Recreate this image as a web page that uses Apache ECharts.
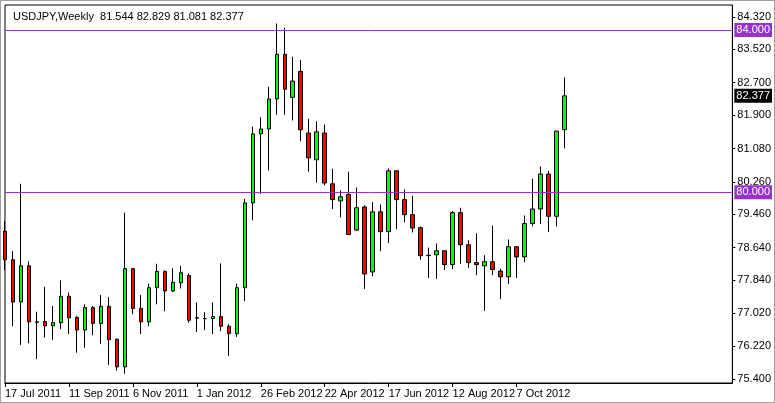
<!DOCTYPE html>
<html>
<head>
<meta charset="utf-8">
<script src="https://cdn.jsdelivr.net/npm/echarts@6/dist/echarts.min.js"></script>
<style>
  html, body { margin: 0; padding: 0; background: #fff; }
  #chart { width: 773px; height: 401px; border: 1px solid #a0a0a0; }
</style>
</head>
<body>
<div id="chart"></div>
<script>
// 周线 OHLC 数据（open, close, low, high）
var opens  = [79.04,78.34,77.30,78.19,76.81,76.82,76.71,76.79,77.44,76.92,76.61,77.16,76.77,77.19,76.38,75.70,78.12,77.14,76.81,77.65,
              78.05,77.57,77.77,77.95,76.90,76.89,76.89,76.94,76.70,76.52,77.65,79.74,81.44,81.56,82.30,83.40,82.34,82.98,81.46,80.80,
              81.46,80.21,79.79,79.95,79.07,79.64,78.04,79.52,79.03,80.53,79.82,79.45,79.13,78.45,78.46,78.56,78.22,79.50,78.71,78.27,
              78.19,78.29,78.06,77.92,78.66,78.41,79.23,79.59,80.45,79.41,81.544];
var closes = [78.34,77.30,78.19,76.81,76.80,76.71,76.79,77.44,76.91,76.61,77.16,76.77,77.19,76.37,75.70,78.12,77.14,76.81,77.65,78.05,
              77.57,77.78,78.02,76.85,76.91,76.89,76.94,76.70,76.52,77.65,79.74,81.44,81.56,82.30,83.40,82.54,82.74,81.54,80.85,81.49,
              80.23,79.82,79.89,78.96,79.62,77.99,79.52,79.03,80.53,79.82,79.45,79.12,78.44,78.44,78.56,78.22,79.50,78.71,78.27,78.22,
              78.29,78.10,77.92,78.66,78.41,79.23,79.59,80.45,79.41,81.51,82.377];
var lows   = [78.08,76.70,76.24,76.28,75.89,76.42,76.36,76.63,76.51,76.05,76.17,76.48,76.27,75.75,75.61,75.53,77.00,76.51,76.70,77.24,
              77.07,77.55,77.63,76.79,76.56,76.61,76.51,76.58,75.97,76.44,77.32,79.31,79.96,80.54,81.91,81.91,81.77,81.26,80.51,80.24,
              80.17,79.59,79.38,78.96,79.05,77.62,77.93,78.55,78.75,79.09,79.26,79.01,78.34,77.89,77.87,78.09,78.11,78.24,78.14,77.96,
              77.08,77.96,77.37,77.74,77.89,78.28,79.16,79.22,79.02,79.16,81.081];
var highs  = [79.29,78.55,80.21,78.30,77.06,77.67,77.20,77.83,77.53,76.95,77.24,77.20,77.47,77.42,76.40,79.50,78.14,77.47,77.75,78.24,
              78.08,78.13,78.19,78.00,77.29,77.05,77.29,78.25,76.75,77.75,79.84,81.62,81.85,82.60,84.16,84.06,83.34,83.26,81.81,81.75,
              81.67,80.58,80.05,80.51,80.12,79.68,79.76,79.70,80.59,80.53,80.07,79.92,79.16,78.64,78.74,78.56,79.54,79.62,78.82,78.99,
              78.45,79.18,78.12,78.84,78.66,79.43,80.34,80.64,80.53,81.51,82.829];
var yTicks = [75.40,76.22,77.02,77.84,78.64,79.46,80.26,81.08,81.90,82.70,83.52,84.32];
var levels = [84.0, 80.0];
var lastPrice = 82.377;
var totalSlots = 92;
var months = ['Jan','Feb','Mar','Apr','May','Jun','Jul','Aug','Sep','Oct','Nov','Dec'];

// 类目：每周一个日期，数据结束后留空
var categories = [];
var d = new Date(2011, 6, 17);
for (var i = 0; i < totalSlots; i++) {
    categories.push(d.getDate() + ' ' + months[d.getMonth()] + ' ' + d.getFullYear());
    d.setDate(d.getDate() + 7);
}
var ohlc = opens.map(function(o, i) { return [o, closes[i], lows[i], highs[i]]; });

var showIdx = function(i) { return i % 8 === 0 && i < opens.length; };
var purple = '#9932CC';
var font = 'Liberation Sans';

var chart = echarts.init(document.getElementById('chart'));
chart.setOption({
    animation: false,
    backgroundColor: '#fff',
    textStyle: { fontFamily: font },
    title: {
        text: 'USDJPY,Weekly  81.544 82.829 81.081 82.377',
        left: 7, top: 5,
        textStyle: { fontSize: 11, fontWeight: 'normal', color: '#000', fontFamily: font }
    },
    grid: { left: 4, right: 41, top: 4, bottom: 19, show: true, borderColor: '#000', borderWidth: 1 },
    xAxis: {
        type: 'category',
        data: categories,
        boundaryGap: false,
        axisLine: { lineStyle: { color: '#000' } },
        axisTick: { interval: showIdx, length: 4, lineStyle: { color: '#000' } },
        axisLabel: {
            interval: 0, align: 'left', margin: 5, fontSize: 11, color: '#000',
            hideOverlap: false,
            formatter: function(v, i) { return showIdx(i) ? v : ''; }
        },
        splitLine: { show: false }
    },
    yAxis: {
        type: 'value',
        position: 'right',
        min: 75.303, max: 84.615,
        axisLine: { show: true, lineStyle: { color: '#000' } },
        axisTick: { show: true, customValues: yTicks, length: 3, lineStyle: { color: '#000' } },
        axisLabel: {
            customValues: yTicks, margin: 5, fontSize: 11, color: '#000',
            formatter: function(v) { return v.toFixed(3); }
        },
        splitLine: { show: false }
    },
    series: [{
        type: 'candlestick',
        data: ohlc,
        barWidth: 4,
        clip: true,
        itemStyle: {
            color: '#00ff00', color0: '#ff0000',
            borderColor: '#000', borderColor0: '#000', borderWidth: 1
        },
        markLine: {
            symbol: 'none', silent: true,
            data: [
                { yAxis: levels[0], lineStyle: { color: purple, width: 1, type: 'solid' },
                  label: { formatter: levels[0].toFixed(3), backgroundColor: purple } },
                { yAxis: levels[1], lineStyle: { color: purple, width: 1, type: 'solid' },
                  label: { formatter: levels[1].toFixed(3), backgroundColor: purple } },
                { yAxis: lastPrice, lineStyle: { color: 'rgba(0,0,0,0)', width: 1, type: 'solid' },
                  label: { formatter: lastPrice.toFixed(3), backgroundColor: '#000' } }
            ],
            label: {
                position: 'end', distance: 2, color: '#fff', fontSize: 11,
                padding: [2, 2, 1, 2]
            }
        }
    }]
});
</script>
</body>
</html>
